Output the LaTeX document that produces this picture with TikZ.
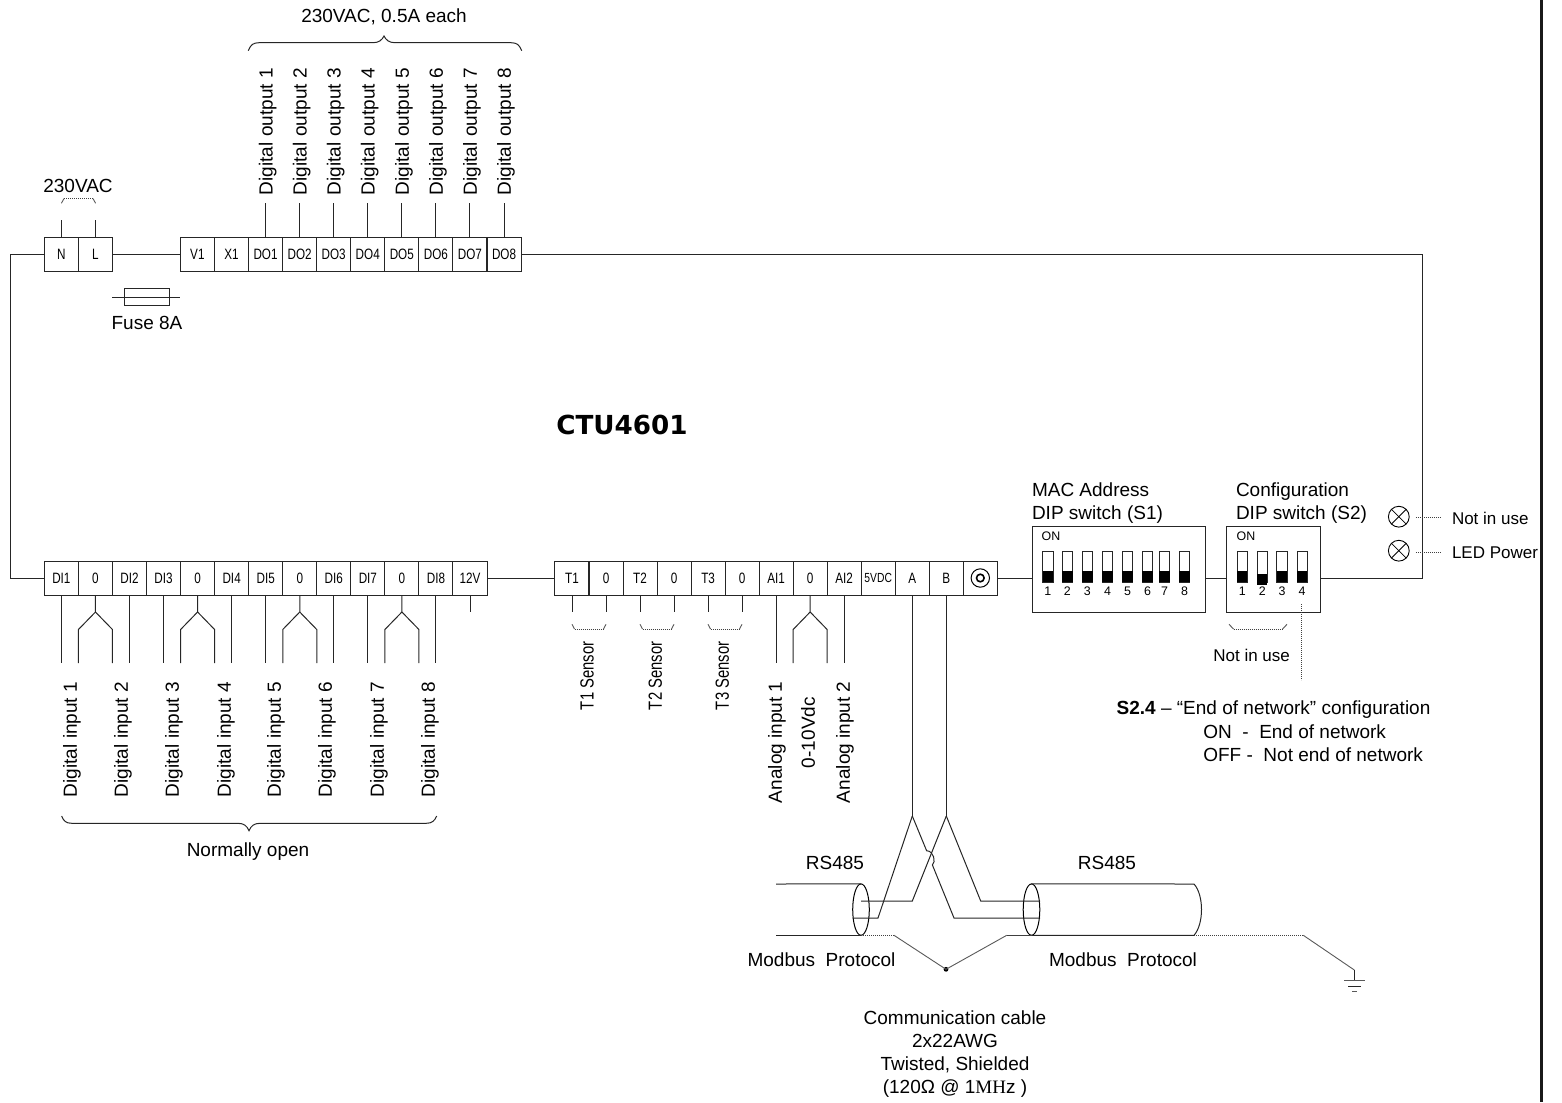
\documentclass[tikz,border=0pt]{standalone}
\usepackage{fontspec}
\setmainfont{Liberation Sans}
\newfontfamily\narrowf[FakeStretch=0.78]{Liberation Sans}
\newfontfamily\serff{Liberation Serif}
\newfontfamily\wideb{DejaVu Sans}
\usetikzlibrary{shapes.geometric}
\newcommand{\fs}[1]{\fontsize{#1}{#1}\selectfont}
\tikzset{
  wire/.style={line width=0.5pt,draw=black!85},
  dotline/.style={line width=0.4pt,draw=black!75,dash pattern=on 0.6pt off 0.4pt},
  graywire/.style={line width=0.45pt,draw=black!65},
  cell/.style={draw=black!85,line width=0.5pt,rectangle,minimum width=17.03pt,minimum height=17pt,inner sep=0pt,outer sep=0pt,font=\narrowf\fs{7.5}},
  lab/.style={inner sep=0pt,outer sep=0pt,font=\fs{9.5},text height=6.9pt,text depth=0pt},
  labl/.style={lab,anchor=west},
  labs/.style={lab,font=\fs{8.5}},
  labsl/.style={labs,anchor=west},
  vlab/.style={lab,rotate=90,anchor=west},
  vnarrow/.style={vlab,font=\narrowf\fs{9.5}},
  small/.style={inner sep=0pt,outer sep=0pt,font=\fs{6.2}},
  dipbox/.style={draw=black!85,line width=0.5pt,rectangle,inner sep=0pt,outer sep=0pt},
  lamp/.style={draw=black,line width=0.45pt,circle,minimum size=10.4pt,inner sep=0pt,outer sep=0pt},
  cablend/.style={draw=black,line width=0.5pt,ellipse,minimum width=8.3pt,minimum height=25.7pt,inner sep=0pt,outer sep=0pt},
}
\begin{document}
\begin{tikzpicture}[x=0.5pt,y=-0.5pt]
\useasboundingbox (0,0) rectangle (1562,1102);
\fill[black!90] (1540.2,0) rectangle (1543.2,1102);
% top terminals
\node[cell] (n) at (61.45,254.5) {N};
\node[cell] (l) at (95.5,254.5) {L};
\foreach \nm/\tx [count=\k from 0] in {v1/V1,x1/X1,do1/DO1,do2/DO2,do3/DO3,do4/DO4,do5/DO5,do6/DO6,do7/DO7,do8/DO8}
  \node[cell] (\nm) at ({197.4+34.07*\k},254.5) {\tx};
% bottom-left terminals
\foreach \nm/\tx [count=\k from 0] in {di1/DI1,za/0,di2/DI2,di3/DI3,zb/0,di4/DI4,di5/DI5,zc/0,di6/DI6,di7/DI7,zd/0,di8/DI8,vt/12V}
  \node[cell] (\nm) at ({61.4+34.05*\k},578) {\tx};
% bottom-mid terminals
\foreach \nm/\tx [count=\k from 0] in {ta/T1,ya/0,tb/T2,yb/0,tc/T3,yc/0,aia/AI1,ye/0,aib/AI2}
  \node[cell] (\nm) at ({572+34.02*\k},578) {\tx};
\node[cell,font=\narrowf\fs{6.6}] (vdc) at (878.2,578) {5VDC};
\node[cell] (ca) at (912.3,578) {A};
\node[cell] (cb) at (946.3,578) {B};
\node[cell] (gnd) at (980.3,578) {};
\node[draw=black,line width=0.5pt,circle,minimum size=9.2pt,inner sep=0pt] (gnda) at (gnd.center) {};
\node[draw=black,line width=0.8pt,circle,minimum size=3.8pt,inner sep=0pt] (gndb) at (gnd.center) {};
% main wires
\coordinate (wl) at (10.5,400);
\coordinate (wr) at (1422.7,400);
\draw[wire] (n.west) -| (wl) |- (di1.west);
\draw[wire] (l.east) -- (v1.west);
\draw[wire] (vt.east) -- (ta.west);
% DIP boxes
\node[dipbox,minimum width=86.4pt,minimum height=42.65pt] (sa) at (1119.2,569.35) {};
\node[dipbox,minimum width=47.35pt,minimum height=42.65pt] (sb) at (1273.35,569.35) {};
\draw[wire] (gnd.east) -- (gnd.east -| sa.west);
\draw[wire] (gnd.east -| sa.east) -- (gnd.east -| sb.west);
\draw[wire] (do8.east) -| (wr) |- (gnd.east -| sb.east);
\node[small] (ona) at (1051,536.7) {ON};
\node[small] (onb) at (1246,536.7) {ON};
\foreach \xx/\d in {1042.5/1,1062.2/2,1082.2/3,1102.3/4,1122.3/5,1142.4/6,1159.3/7,1179.4/8}{
  \draw[line width=0.4pt,draw=black!85] (\xx,551.7) rectangle ++(10.4,30.6);
  \fill[black] (\xx,571.3) rectangle ++(10.4,11);
  \node[small] (sad\d) at (\xx+5.2,591.5) {\d};
}
\foreach \xx/\d/\yy in {1237/1/571.3,1257/2/573.5,1276.8/3/571.3,1296.9/4/571.3}{
  \draw[line width=0.4pt,draw=black!85] (\xx,551.7) rectangle ++(10.4,30.6);
  \fill[black] (\xx,\yy) rectangle (\xx+10.4,\yy+11);
  \node[small] (sbd\d) at (\xx+5.2,591.5) {\d};
}
% top stubs
\draw[wire] (n.north) -- ++(0,-17.5) coordinate (ntop);
\draw[wire] (l.north) -- ++(0,-17.5) coordinate (ltop);
\foreach \i in {1,...,8}{
  \draw[wire] (do\i.north) -- ++(0,-34.3) coordinate (dotop\i);
  \node[vlab] (dol\i) at ({265.6+34.07*(\i-1)},195) {Digital output \i};
}
% small bracket 230VAC
\draw[graywire] (61.4,203.3) -- (64,198.6);
\draw[graywire] (95.6,203.3) -- (93,198.6);
\draw[dotline] (64,198.4) -- (93,198.4);
\node[lab] (vac) at (78,186) {230VAC};
% fuse
\node[draw=black!85,line width=0.5pt,rectangle,minimum width=22.7pt,minimum height=8.7pt,inner sep=0pt,outer sep=0pt] (fuse) at (146.7,297) {};
\coordinate (fa) at (112.3,297);
\coordinate (fb) at (180.4,297);
\draw[wire] (fa) -- (fb);
\node[lab] (fuset) at (147,323) {Fuse 8A};
% big top brace
\coordinate (ba) at (248.3,50.7);
\coordinate (bb) at (521.7,50.7);
\coordinate (bc) at (384,36);
\draw[wire] (ba) .. controls (250.5,45) and (253,42.7) .. (259,42.7) -- (373,42.7) .. controls (379,42.7) and (382,40) .. (bc) .. controls (386,40) and (389,42.7) .. (395,42.7) -- (511,42.7) .. controls (517,42.7) and (519.5,45) .. (bb);
\node[lab] (topt) at (384,16) {230VAC, 0.5A each};
% bottom-left stubs
\foreach \nm in {di1,di2,di3,di4,di5,di6,di7,di8,aia,aib}
  \draw[wire] (\nm.south) -- ++(0,68) coordinate (\nm end);
\foreach \nm in {za,zb,zc,zd,ye}{
  \draw[wire] (\nm.south) -- ++(0,17) coordinate (\nm f) -- ++(-17,17.5) -- ++(0,33.5) coordinate (\nm l);
  \draw[wire] (\nm f) -- ++(17,17.5) -- ++(0,33.5) coordinate (\nm r);
}
\foreach \nm in {vt,ta,ya,tb,yb,tc,yc}
  \draw[wire] (\nm.south) -- ++(0,17) coordinate (\nm end);
% labels digital inputs
\foreach \xx/\i in {70/1,121/2,172/3,224/4,274/5,325/6,377/7,428/8}
  \node[vlab] (dil\i) at (\xx,797) {Digital input \i};
% bottom brace
\coordinate (ca1) at (61.7,816);
\coordinate (ca2) at (436.7,816);
\coordinate (ca3) at (249,830.7);
\draw[wire] (ca1) .. controls (63.5,821) and (66,823.3) .. (72,823.3) -- (238,823.3) .. controls (244,823.3) and (247,826) .. (ca3) .. controls (251,826) and (254,823.3) .. (260,823.3) -- (426,823.3) .. controls (432,823.3) and (434.5,821) .. (ca2);
\node[lab] (no) at (248,850) {Normally open};
% sensor brackets
\foreach \xx/\i in {572/1,640/2,708/3}{
  \draw[graywire] (\xx,624.3) -- (\xx+2.5,629);
  \draw[graywire] (\xx+34,624.3) -- (\xx+31.5,629);
  \draw[dotline] (\xx+2.5,629.2) -- (\xx+31.5,629.2);
}
\foreach \xx/\i in {586.7/1,655/2,722/3}
  \node[vnarrow] (sen\i) at (\xx,710) {T\i{} Sensor};
\node[vlab] (an1) at (775,803) {Analog input 1};
\node[vlab] (an0) at (808,768) {0-10Vdc};
\node[vlab] (an2) at (843,803) {Analog input 2};
% title
\node[inner sep=0pt,font=\wideb\bfseries\fs{13.1}] (title) at (622,425) {CTU4601};
% DIP labels
\node[labl] (mac) at (1032,490) {MAC Address};
\node[labl] (macb) at (1032,512.5) {DIP switch (S1)};
\node[labl] (cfg) at (1236,490) {Configuration};
\node[labl] (cfgb) at (1236,512.5) {DIP switch (S2)};
% lamps
\node[lamp] (lpa) at (1398.8,516.7) {};
\node[lamp] (lpb) at (1398.8,550.7) {};
\foreach \lp in {lpa,lpb}{
  \draw[line width=0.4pt] (\lp.45) -- (\lp.225);
  \draw[line width=0.4pt] (\lp.135) -- (\lp.315);
}
\node[labsl] (nu) at (1452,518) {Not in use};
\node[labsl] (ledp) at (1452,552) {LED Power};
\coordinate (lda) at (1415.8,517.5);
\coordinate (ldb) at (1440,517.5);
\coordinate (ldc) at (1415.8,552);
\coordinate (ldd) at (1440,552);
\draw[dotline] (lda) -- (ldb);
\draw[dotline] (ldc) -- (ldd);
% S2 bracket
\draw[graywire] (1229,624.3) -- (1233.5,629);
\draw[graywire] (1287,624.3) -- (1282.5,629);
\draw[dotline] (1233.5,629.2) -- (1282.5,629.2);
\node[labs] (niu) at (1251.6,654.5) {Not in use};
\coordinate (vda) at (1301.7,604);
\coordinate (vdb) at (1301.7,680);
\draw[dotline] (vda) -- (vdb);
\node[labl] (s1) at (1116.7,708) {\textbf{S2.4} -- “End of network” configuration};
\node[labl] (s2) at (1203.3,731.5) {ON\ \ -\ \ End of network};
\node[labl] (s3) at (1203.3,754.5) {OFF -\ \ Not end of network};
% communication cable
\coordinate (aj) at (912.3,816);
\coordinate (bj) at (946.3,816);
\draw[wire] (ca.south) -- (aj);
\draw[wire] (cb.south) -- (bj);
\node[cablend] (ell) at (861,909.6) {};
\node[cablend] (elr) at (1031.5,909.6) {};
\coordinate (cla) at (776,884);
\coordinate (clb) at (776,935.3);
\coordinate (cra) at (1194,884);
\coordinate (crb) at (1194,935.3);
\draw[wire] (cla) -- (ell.north);
\draw[wire] (clb) -- (ell.south);
\draw[wire] (elr.north) -- (cra) .. controls (1204,895) and (1204,924) .. (crb) -- (elr.south);
\draw[wire] (aj) -- (878,918) -- (852.7,918);
\draw[wire] (aj) -- (926.6,850.7) .. controls (934,851) and (936,862) .. (932.4,865) -- (954,918) -- (1040,918);
\draw[wire] (bj) -- (912.3,901) -- (861,901);
\draw[wire] (bj) -- (980.7,901) -- (1040,901);
% shield
\coordinate (sd) at (946,969.3);
\fill (sd) circle (1.2pt);
\draw[dotline] (ell.south) -- (894,935.3) coordinate (sl);
\draw[dotline] (elr.south) -- (1006.7,935.3) coordinate (sr);
\draw[graywire] (sl) -- (sd) -- (sr);
\coordinate (ge) at (1303.3,935.3);
\coordinate (gf) at (1354.3,970);
\coordinate (gg) at (1354.3,980.7);
\draw[dotline] (crb) -- (ge);
\draw[graywire] (ge) -- (gf);
\draw[wire] (gf) -- (gg);
\draw[graywire] (1344,980.7) -- (1365,980.7);
\draw[wire] (1348,986) -- (1361,986);
\draw[graywire] (1352,991.5) -- (1357,991.5);
% cable labels
\node[lab] (rsa) at (835,863) {RS485};
\node[lab] (rsb) at (1107,863) {RS485};
\node[lab] (mba) at (821.5,959.5) {Modbus\ \ Protocol};
\node[lab] (mbb) at (1123,959.5) {Modbus\ \ Protocol};
\node[lab] (cc1) at (955,1018) {Communication cable};
\node[lab] (cc2) at (955,1041) {2x22AWG};
\node[lab] (cc3) at (955,1064) {Twisted, Shielded};
\node[lab] (cc4) at (955,1087) {(120Ω @ 1{\serff MH}z )};
\end{tikzpicture}
\end{document}
